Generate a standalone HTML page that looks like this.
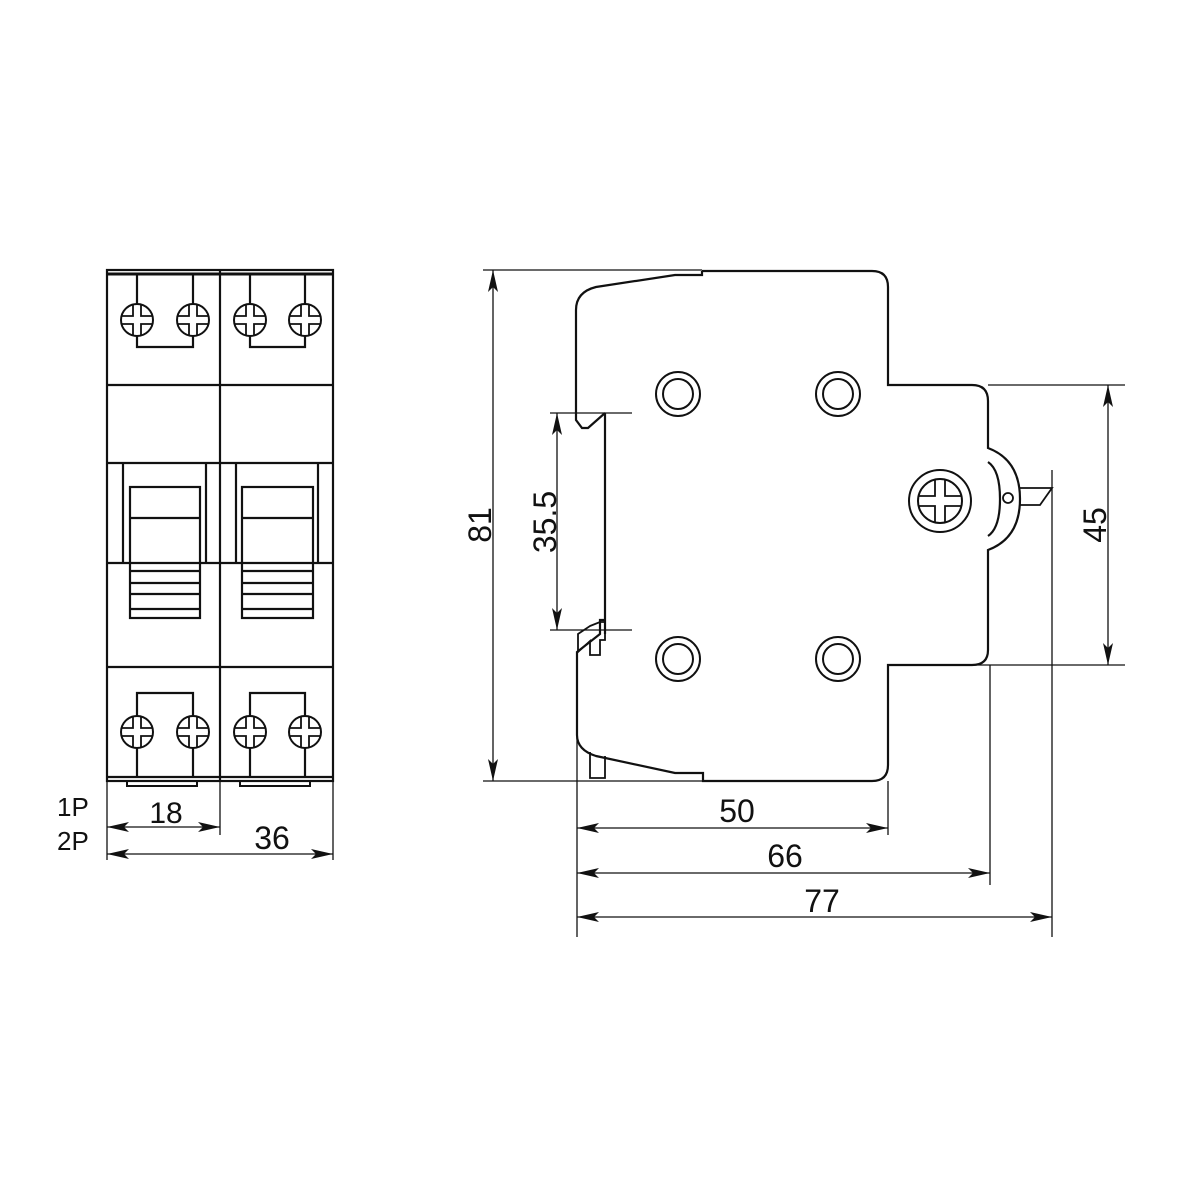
<!DOCTYPE html>
<html><head><style>body{margin:0;background:#fff}svg{display:block}text{font-family:"Liberation Sans",sans-serif;fill:#111}</style></head>
<body>
<svg width="1200" height="1200" viewBox="0 0 1200 1200" xmlns="http://www.w3.org/2000/svg">
<defs>
<marker id="a" viewBox="0 0 22 10" refX="22" refY="5" markerWidth="22" markerHeight="10" markerUnits="userSpaceOnUse" orient="auto-start-reverse"><path d="M0,0 L22,5 L0,10 L5,5 Z" fill="#111"/></marker>
<g id="scr"><circle r="16" fill="#fff" stroke="#111" stroke-width="2"/><path d="M-4,-15V-4H-15M4,-15V-4H15M-4,15V4H-15M4,15V4H15" fill="none" stroke="#111" stroke-width="1.8"/></g>
</defs>
<g fill="none" stroke="#111" stroke-width="2.2">
<rect x="107" y="270" width="226" height="511"/>
<line x1="107" y1="274" x2="333" y2="274" stroke-width="3"/>
<line x1="220" y1="270" x2="220" y2="781"/>
<line x1="107" y1="385" x2="333" y2="385"/>
<line x1="107" y1="463" x2="333" y2="463"/>
<line x1="107" y1="563" x2="333" y2="563"/>
<line x1="107" y1="667" x2="333" y2="667"/>
<line x1="107" y1="777" x2="333" y2="777"/>
<path d="M123,463V563M206,463V563M236,463V563M318,463V563"/>
<rect x="130" y="487" width="70" height="131"/><rect x="242" y="487" width="71" height="131"/>
<path d="M130,518H200M130,571H200M130,583H200M130,594H200M130,609H200"/>
<path d="M242,518H313M242,571H313M242,583H313M242,594H313M242,609H313"/>
<path d="M137,274V347H193V274M250,274V347H305V274"/>
<path d="M137,777V693H193V777M250,777V693H305V777"/>
<path d="M127,781V786H197V781M240,781V786H310V781" stroke-width="2"/>
</g>
<use href="#scr" x="137" y="320"/><use href="#scr" x="193" y="320"/><use href="#scr" x="250" y="320"/><use href="#scr" x="305" y="320"/>
<use href="#scr" x="137" y="732"/><use href="#scr" x="193" y="732"/><use href="#scr" x="250" y="732"/><use href="#scr" x="305" y="732"/>
<g stroke="#111" stroke-width="1.3" fill="none">
<path d="M107,781V860M333,781V860M220,781V835"/>
<line x1="107" y1="827" x2="220" y2="827" marker-start="url(#a)" marker-end="url(#a)"/>
<line x1="107" y1="854" x2="333" y2="854" marker-start="url(#a)" marker-end="url(#a)"/>
</g>
<text x="57" y="816" font-size="26">1P</text>
<text x="57" y="850" font-size="26">2P</text>
<text x="166" y="823" font-size="30" text-anchor="middle">18</text>
<text x="272" y="849" font-size="32" text-anchor="middle">36</text>

<g fill="none" stroke="#111" stroke-width="2.2">
<path d="M702,271H872Q888,271 888,287V385H972Q988,385 988,401V448Q1020,460 1020,499Q1020,538 988,550V650Q988,665 972,665H888V765Q888,781 872,781H703V773L675,773L596,756Q577,750 577,735V652L600,634V620L605,620"/>
<path d="M702,271V275H675L596,287Q576,292 576,310V420L582,428H588L605,413"/>
<path d="M988,462Q1000,470 1000,499Q1000,528 988,536"/>
<path d="M605,413V634"/>
<path d="M590,626L600,622H605V640H600V655H590V641L578,652V634Z" stroke-width="1.8"/>
<path d="M590,752V778H605V756" stroke-width="1.8"/>
<path d="M1020,488H1052L1040,505H1020" stroke-width="1.8"/>
</g>
<circle cx="1008" cy="498" r="5" fill="none" stroke="#111" stroke-width="1.8"/>
<g fill="none" stroke="#111" stroke-width="2">
<circle cx="678" cy="394" r="22"/><circle cx="678" cy="394" r="15"/>
<circle cx="838" cy="394" r="22"/><circle cx="838" cy="394" r="15"/>
<circle cx="678" cy="659" r="22"/><circle cx="678" cy="659" r="15"/>
<circle cx="838" cy="659" r="22"/><circle cx="838" cy="659" r="15"/>
<circle cx="940" cy="501" r="31"/><circle cx="940" cy="501" r="22"/>
<path d="M935,479V496H918M945,479V496H962M935,523V506H918M945,523V506H962" stroke-width="1.8"/>
</g>
<g stroke="#111" stroke-width="1.3" fill="none">
<path d="M483,270H702M483,781H703M550,413H632M550,630H632M988,385H1125M888,665H1125"/>
<path d="M577,735V937M888,781V835M990,665V885M1052,470V937"/>
<line x1="493" y1="270" x2="493" y2="781" marker-start="url(#a)" marker-end="url(#a)"/>
<line x1="557" y1="413" x2="557" y2="630" marker-start="url(#a)" marker-end="url(#a)"/>
<line x1="1108" y1="385" x2="1108" y2="665" marker-start="url(#a)" marker-end="url(#a)"/>
<line x1="577" y1="828" x2="888" y2="828" marker-start="url(#a)" marker-end="url(#a)"/>
<line x1="577" y1="873" x2="990" y2="873" marker-start="url(#a)" marker-end="url(#a)"/>
<line x1="577" y1="917" x2="1052" y2="917" marker-start="url(#a)" marker-end="url(#a)"/>
</g>
<text x="737" y="822" font-size="32" text-anchor="middle">50</text>
<text x="785" y="867" font-size="32" text-anchor="middle">66</text>
<text x="822" y="912" font-size="32" text-anchor="middle">77</text>
<text transform="translate(491,525) rotate(-90)" font-size="32" text-anchor="middle">81</text>
<text transform="translate(556,522) rotate(-90)" font-size="32" text-anchor="middle">35.5</text>
<text transform="translate(1106,525) rotate(-90)" font-size="32" text-anchor="middle">45</text>
</svg>
</body></html>
